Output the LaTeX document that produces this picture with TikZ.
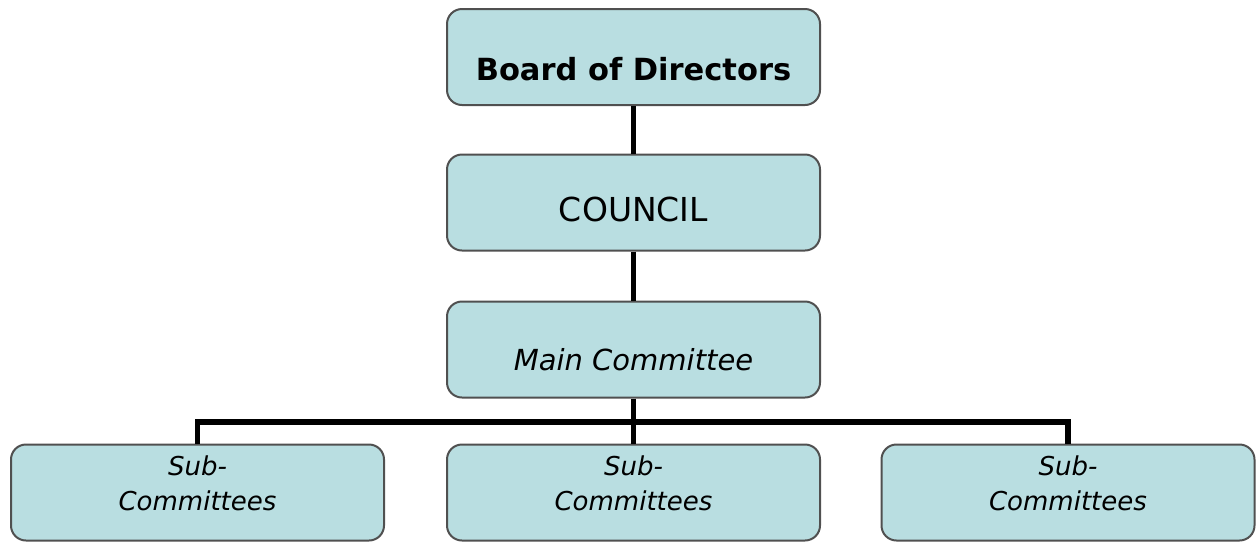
\documentclass[tikz,border=0pt]{standalone}
\usepackage{fontspec}
\setmainfont{DejaVu Sans}
\definecolor{boxfill}{RGB}{185,222,225}
\definecolor{boxline}{RGB}{80,80,80}
\begin{document}
\begin{tikzpicture}[x=1pt,y=-1pt,
  orgbox/.style={draw=boxline, line width=2pt, fill=boxfill, rounded corners=15pt,
    minimum width=373pt, minimum height=96pt, inner sep=2pt, text depth=0pt},
  link/.style={line width=5.5pt, black, line join=miter}]
\useasboundingbox (0,0) rectangle (1256,542);
\node[orgbox, text height=46pt, font=\fontsize{30.5}{36}\selectfont\bfseries] (board) at (633.5,57) {Board of Directors};
\node[orgbox, text height=38pt, font=\fontsize{33}{39}\selectfont] (council) at (633.5,202.5) {COUNCIL};
\node[orgbox, text height=41pt, font=\fontsize{29}{35}\selectfont\itshape] (main) at (633.5,349.5) {Main Committee};
\tikzset{subtext/.style={orgbox, text height=35pt, font=\fontsize{26}{35}\selectfont\itshape}}
\node[subtext] (s1) at (197.5,492.5) {\begin{tabular}[b]{@{}c@{}}Sub-\\Committees\end{tabular}};
\node[subtext] (s2) at (633.5,492.5) {\begin{tabular}[b]{@{}c@{}}Sub-\\Committees\end{tabular}};
\node[subtext] (s3) at (1068,492.5) {\begin{tabular}[b]{@{}c@{}}Sub-\\Committees\end{tabular}};
\coordinate (bus) at (633.5,422);
\draw[link] (board.south) -- (council.north);
\draw[link] (council.south) -- (main.north);
\draw[link] (main.south) -- (s2.north);
\draw[link] (s1.north) |- (bus) -| (s3.north);
\end{tikzpicture}
\end{document}
